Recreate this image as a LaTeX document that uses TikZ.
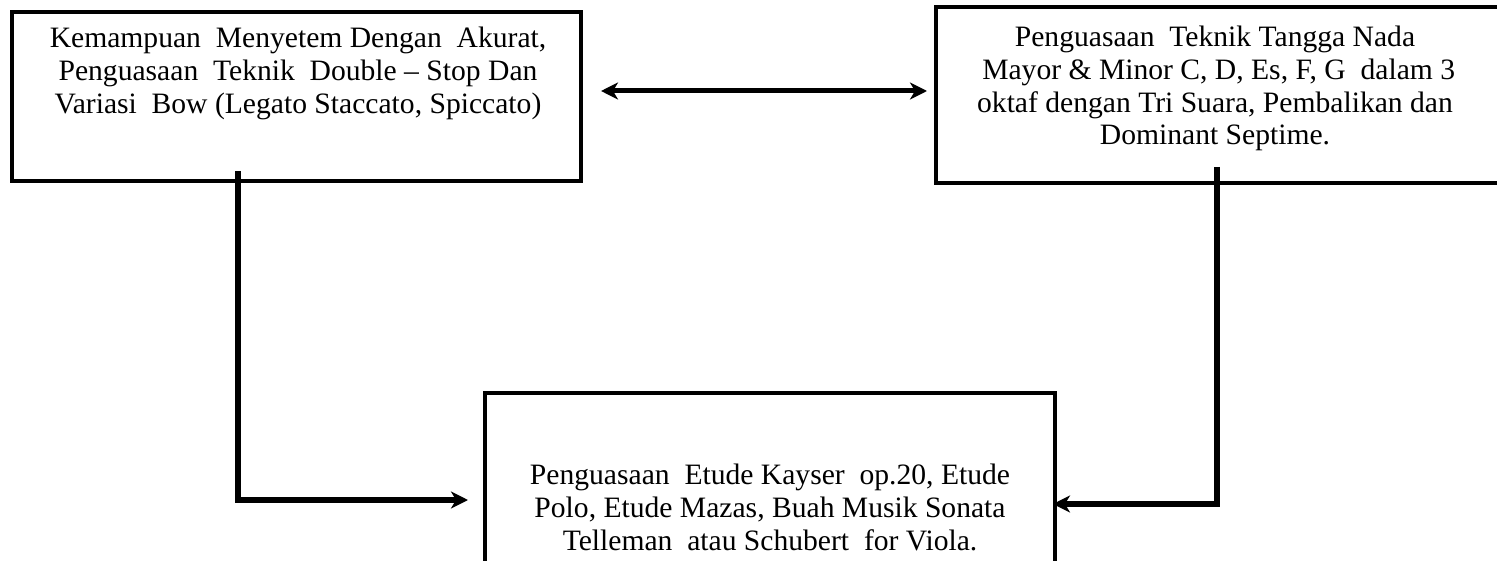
\documentclass[tikz,border=0pt]{standalone}
\usepackage{fontspec}
\setmainfont{Liberation Serif}
\usetikzlibrary{arrows.meta}
\begin{document}
\begin{tikzpicture}[x=0.5pt,y=-0.5pt,
  box/.style={draw,line width=2pt,inner sep=0pt,outer sep=0pt,anchor=north west},
  txt/.style={align=center,inner sep=0pt,anchor=north,font=\fontsize{14.8pt}{16.3pt}\selectfont},
  conn/.style={line width=3pt},
  tip/.style={-{Stealth[length=8.5pt,width=8.5pt,inset=2.5pt]}},
  dtip/.style={{Stealth[length=8.5pt,width=8.5pt,inset=2.5pt]}-{Stealth[length=8.5pt,width=8.5pt,inset=2.5pt]}}]
\useasboundingbox (0,0) rectangle (1497,561);
\clip (0,0) rectangle (1497,561);
\fill[white] (0,0) rectangle (1497,561);
% boxes
\node[box,minimum width=284.5pt,minimum height=84.5pt] (A) at (12,12) {};
\node[box,minimum width=287pt,minimum height=88pt] (B) at (936,7) {};
\node[box,minimum width=285pt,minimum height=93.5pt] (C) at (485,393) {};
% texts
\node[txt] (At) at (298,27) {Kemampuan\ \ Menyetem Dengan\ \ Akurat,\\Penguasaan\ \ Teknik\ \ Double -- Stop Dan\\Variasi\ \ Bow (Legato Staccato, Spiccato)};
\node[txt] (Bt) at (1215,26) {Penguasaan\ \ Teknik Tangga Nada\\\ Mayor \& Minor C, D, Es, F, G\ \ dalam 3\\oktaf dengan Tri Suara, Pembalikan dan\\Dominant Septime.};
\node[txt] (Ct) at (770,464) {Penguasaan\ \ Etude Kayser\ \ op.20, Etude\\Polo, Etude Mazas, Buah Musik Sonata\\Telleman\ \ atau Schubert\ \ for Viola.};
% connectors
\coordinate (t) at (0,91);
\draw[line width=2.5pt,dtip,shorten <=10pt,shorten >=4.5pt] (A.east |- t) -- (B.west |- t);
\coordinate (a1) at (238,171);
\coordinate (a2) at (238,500);
\draw[conn,tip,shorten >=8.5pt,line join=miter] (a1) -- (a2) -- (a2 -| C.west);
\coordinate (b1) at (1217,167);
\coordinate (b2) at (1217,504);
\draw[conn,tip,shorten >=-1pt,line join=miter] (b1) -- (b2) -- (b2 -| C.east);
\end{tikzpicture}
\end{document}
